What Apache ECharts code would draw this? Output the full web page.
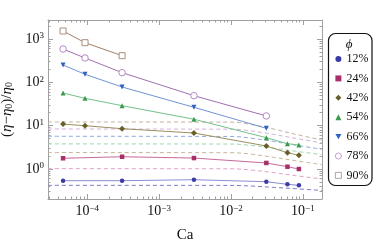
<!DOCTYPE html>
<html><head><meta charset="utf-8">
<script src="https://cdn.jsdelivr.net/npm/echarts@6/dist/echarts.min.js"></script>
<style>html,body{margin:0;padding:0;background:#fff}#c{width:374px;height:244px}</style>
</head><body><div id="c"></div>
<script>
// ---- data ----
const caA = [4.6e-5, 3.05e-4, 3.05e-3, 0.031, 0.061, 0.088];            // 12%, 24%
const caB = [4.6e-5, 9.3e-5, 3.05e-4, 3.05e-3, 0.031, 0.061, 0.088];    // 42%, 54%
const caC = [4.6e-5, 9.3e-5, 3.05e-4, 3.05e-3, 0.031];                  // 66%, 78%
const caD = [4.6e-5, 9.3e-5, 3.05e-4];                                  // 90%
const phi12 = [0.537, 0.537, 0.566, 0.509, 0.443, 0.42];
const phi24 = [1.77, 1.92, 1.79, 1.38, 1.13, 1.0];
const phi42 = [10.9, 10.0, 8.53, 6.78, 3.40, 2.38, 2.07];
const phi54 = [56.9, 42.9, 29.0, 14.1, 5.28, 3.84, 3.58];
const phi66 = [252, 154, 78.3, 26.6, 8.7];
const phi78 = [590, 366, 168, 49.3, 16.8];
const phi90 = [1538, 826, 414];
// dashed model curves
const caModel = [2.84e-5, 0.01, 0.02, 0.04, 0.08, 0.1845];
const model90 = [12.2, 12.1, 10.5, 8.3, 6.3, 4.65];
const model78 = [8.4, 8.3, 7.5, 6.25, 5.1, 4.0];
const model66 = [5.7, 5.65, 5.1, 4.3, 3.55, 2.85];
const model54 = [3.8, 3.77, 3.48, 3.0, 2.57, 2.14];
const model42 = [2.4, 2.38, 2.18, 1.85, 1.55, 1.26];
const model24 = [1.02, 1.01, 0.94, 0.82, 0.70, 0.59];
const model12 = [0.42, 0.418, 0.403, 0.376, 0.35, 0.32];
const seriesNames = ['12%', '24%', '42%', '54%', '66%', '78%', '90%'];
// tick labels
const xTickVals = [1e-4, 1e-3, 1e-2, 1e-1];
const xTickExps = ['−4', '−3', '−2', '−1'];
const yTickVals = [1, 10, 100, 1000];
const yTickExps = ['0', '1', '2', '3'];

const X_MIN = 2.84e-5, X_MAX = 0.1845, Y_MIN = 0.203, Y_MAX = 2760;

function minorTicks(lo, hi) {
  const out = [];
  for (let e = -6; e <= 4; e++) for (let m = 2; m <= 9; m++) {
    const v = m * Math.pow(10, e);
    if (v > lo && v < hi) out.push(v);
  }
  return out;
}
const xMinor = minorTicks(X_MIN, X_MAX), yMinor = minorTicks(Y_MIN, Y_MAX);

const frame = '#a0a0a0';
const SERIF = '"Liberation Serif", "DejaVu Serif", serif';
const supRich = {
  b: { fontFamily: SERIF, fontSize: 14, color: '#111' },
  s: { fontFamily: SERIF, fontSize: 9, color: '#111', verticalAlign: 'top', padding: [0, 0, 6, 0] }
};

function xAxisDef(pos, major, labels) {
  return {
    type: 'log', logBase: 10, min: X_MIN, max: X_MAX, position: pos, gridIndex: 0,
    axisLine: { show: major, onZero: false, lineStyle: { color: frame, width: 1 } },
    axisTick: { show: true, inside: true, length: major ? 5 : 2.5, customValues: major ? xTickVals : xMinor, lineStyle: { color: frame } },
    axisLabel: labels ? {
      show: true, customValues: xTickVals, margin: 5,
      formatter: v => { const i = xTickVals.findIndex(t => Math.abs(t - v) / t < 1e-6); return i < 0 ? '' : '{b|10}{s|' + xTickExps[i] + '}'; },
      rich: supRich
    } : { show: false },
    splitLine: { show: false }, minorTick: { show: false },
    name: labels ? 'Ca' : '', nameLocation: 'middle', nameGap: 29,
    nameTextStyle: { fontFamily: SERIF, fontSize: 15, color: '#111' }
  };
}
function yAxisDef(pos, major, labels) {
  return {
    type: 'log', logBase: 10, min: Y_MIN, max: Y_MAX, position: pos, gridIndex: 0,
    axisLine: { show: major, onZero: false, lineStyle: { color: frame, width: 1 } },
    axisTick: { show: true, inside: true, length: major ? 5 : 2.5, customValues: major ? yTickVals : yMinor, lineStyle: { color: frame } },
    axisLabel: labels ? {
      show: true, customValues: yTickVals, margin: 4,
      formatter: v => { const i = yTickVals.findIndex(t => Math.abs(t - v) / t < 1e-6); return i < 0 ? '' : '{b|10}{s|' + yTickExps[i] + '}'; },
      rich: supRich
    } : { show: false },
    splitLine: { show: false }, minorTick: { show: false },
    name: labels ? '{p|(}{i|η}{p|−}{i|η}{sub|0}{p|)/}{i|η}{sub|0}' : '',
    nameLocation: 'middle', nameGap: 22, nameRotate: 90,
    nameTextStyle: {
      rich: {
        p: { fontFamily: SERIF, fontSize: 15, color: '#111' },
        i: { fontFamily: SERIF, fontSize: 15, fontStyle: 'italic', color: '#111' },
        sub: { fontFamily: SERIF, fontSize: 10, color: '#111', verticalAlign: 'bottom', padding: [6, 0, 0, 0] }
      }
    }
  };
}

const styles = {
  '12%': { sym: 'circle', size: 4.5, mc: '#3b3ba5', lc: '#8c8cd4', dc: '#7c7cc8', fill: '#3b3ba5' },
  '24%': { sym: 'rect', size: 4.5, mc: '#a8306a', lc: '#c86a98', dc: '#e0a2c6', fill: '#a8306a' },
  '42%': { sym: 'diamond', size: 6, mc: '#6a5e28', lc: '#9a9060', dc: '#c8b898', fill: '#6a5e28' },
  '54%': { sym: 'triangle', size: 5, mc: '#3a9a4a', lc: '#72c28a', dc: '#9ed6ae', fill: '#3a9a4a' },
  '66%': { sym: 'path://M0,0L10,0L5,9Z', size: 5, mc: '#3262c0', lc: '#7094d4', dc: '#90a8e0', fill: '#3262c0' },
  '78%': { sym: 'circle', size: 6.5, mc: '#b888c8', lc: '#a070b0', dc: '#d2b2da', fill: '#ffffff' },
  '90%': { sym: 'rect', size: 6, mc: '#a89080', lc: '#a08068', dc: '#c4b2a0', fill: '#ffffff' }
};
const caOf = { '12%': caA, '24%': caA, '42%': caB, '54%': caB, '66%': caC, '78%': caC, '90%': caD };
const valOf = { '12%': phi12, '24%': phi24, '42%': phi42, '54%': phi54, '66%': phi66, '78%': phi78, '90%': phi90 };
const modelOf = { '12%': model12, '24%': model24, '42%': model42, '54%': model54, '66%': model66, '78%': model78, '90%': model90 };

const series = [];
seriesNames.forEach(n => {
  series.push({
    type: 'line', name: 'model ' + n, data: caModel.map((c, i) => [c, modelOf[n][i]]),
    showSymbol: false, smooth: 0.4, silent: true, z: 1,
    lineStyle: { color: styles[n].dc, width: 1, type: [4, 3] }
  });
});
seriesNames.forEach(n => {
  const st = styles[n];
  series.push({
    type: 'line', name: n, data: caOf[n].map((c, i) => [c, valOf[n][i]]),
    symbol: st.sym, symbolSize: st.size, showSymbol: true, z: 3,
    lineStyle: { color: st.lc, width: 1 },
    itemStyle: { color: st.fill, borderColor: st.mc, borderWidth: st.fill === '#ffffff' ? 1 : 0 }
  });
});

const chart = echarts.init(document.getElementById('c'), null, { renderer: 'canvas' });
chart.setOption({
  animation: false,
  backgroundColor: '#fff',
  grid: { left: 48, right: 52, top: 20, bottom: 45, containLabel: false, outerBoundsMode: 'none' },
  xAxis: [xAxisDef('bottom', true, true), xAxisDef('top', true, false), xAxisDef('bottom', false, false), xAxisDef('top', false, false)],
  yAxis: [yAxisDef('left', true, true), yAxisDef('right', true, false), yAxisDef('left', false, false), yAxisDef('right', false, false)],
  legend: {
    orient: 'vertical', left: 330, top: 47, itemWidth: 6, itemHeight: 6, itemGap: 5.4,
    selectedMode: false,
    textStyle: { fontFamily: SERIF, fontSize: 12, color: '#111', lineHeight: 14 },
    data: seriesNames.map(n => ({
      name: n, icon: styles[n].sym,
      itemStyle: { color: styles[n].fill, borderColor: styles[n].mc, borderWidth: styles[n].fill === '#ffffff' ? 0.8 : 0 }
    }))
  },
  graphic: [
    { type: 'rect', shape: { x: 328.5, y: 33.5, width: 43.5, height: 152, r: 7 }, style: { fill: 'none', stroke: '#111', lineWidth: 1.2 }, z: 10 },
    { type: 'text', x: 349, y: 45, style: { text: 'ϕ', font: 'italic 13px "Liberation Serif", serif', fill: '#111', align: 'center', verticalAlign: 'middle' }, z: 10 }
  ],
  series: series
});
</script></body></html>
